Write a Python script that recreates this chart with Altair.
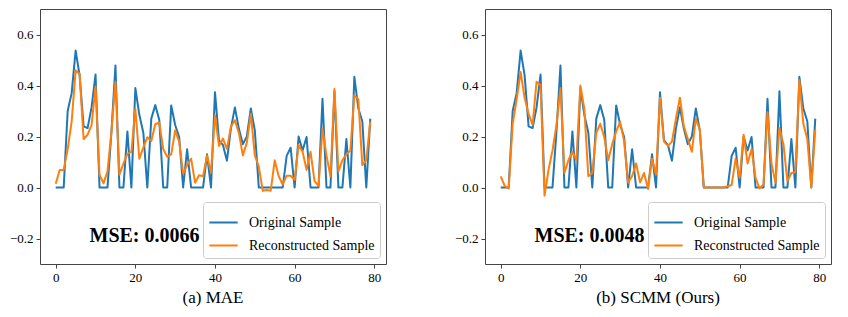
import altair as alt
import pandas as pd

# ---------------- data ----------------
x_index = list(range(80))

original_sample = [
    0.0, 0.0, 0.0, 0.30, 0.37, 0.537, 0.44, 0.24, 0.233, 0.314,
    0.443, 0.0, 0.0, 0.0, 0.22, 0.478, 0.0, 0.0, 0.22, 0.0,
    0.39, 0.285, 0.215, 0.0, 0.27, 0.323, 0.266, 0.0, 0.0, 0.322,
    0.245, 0.198, 0.0, 0.15, 0.0, 0.0, 0.0, 0.0, 0.13, 0.0,
    0.374, 0.185, 0.167, 0.105, 0.232, 0.314, 0.23, 0.17, 0.2, 0.31,
    0.224, 0.0, 0.0, 0.0, 0.0, 0.0, 0.0, 0.0, 0.124, 0.156,
    0.0, 0.2, 0.145, 0.198, 0.0, 0.0, 0.0, 0.348, 0.0, 0.0,
    0.377, 0.0, 0.0, 0.19, 0.0, 0.434, 0.31, 0.26, 0.0, 0.27,
]

mae_reconstructed = [
    0.015, 0.069, 0.069, 0.15, 0.258, 0.46, 0.446, 0.19, 0.207, 0.245,
    0.396, 0.05, 0.016, 0.063, 0.22, 0.415, 0.05, 0.094, 0.132, 0.14,
    0.308, 0.113, 0.157, 0.197, 0.182, 0.248, 0.255, 0.151, 0.12, 0.13,
    0.224, 0.18, 0.054, 0.088, 0.113, 0.019, 0.048, 0.044, 0.126, 0.059,
    0.283, 0.163, 0.192, 0.151, 0.239, 0.264, 0.214, 0.126, 0.176, 0.289,
    0.126, 0.082, -0.013, -0.01, -0.013, 0.107, 0.044, 0.012, 0.046, 0.046,
    0.03, 0.167, 0.14, 0.069, 0.14, 0.025, 0.006, 0.23, 0.126, 0.044,
    0.386, 0.063, 0.107, 0.13, 0.145, 0.361, 0.346, 0.088, 0.107, 0.258,
]

scmm_reconstructed = [
    0.044, 0.006, -0.004, 0.25, 0.346, 0.453, 0.352, 0.289, 0.245, 0.415,
    0.402, -0.032, 0.069, 0.145, 0.245, 0.39, 0.057, 0.107, 0.14, 0.107,
    0.40, 0.308, 0.044, 0.057, 0.214, 0.25, 0.197, 0.107, 0.17, 0.22,
    0.258, 0.18, 0.019, 0.045, 0.094, 0.02, 0.057, -0.006, 0.113, 0.05,
    0.352, 0.18, 0.163, 0.18, 0.27, 0.352, 0.239, 0.19, 0.14, 0.27,
    0.227, 0.0, 0.0, 0.0, 0.0, 0.0, 0.0, 0.005, 0.01, 0.113,
    0.038, 0.207, 0.094, 0.151, 0.038, -0.004, 0.012, 0.295, 0.094, 0.019,
    0.232, 0.17, 0.025, 0.057, 0.06, 0.421, 0.25, 0.19, 0.0, 0.226,
]

series_names = ["Original Sample", "Reconstructed Sample"]
series_colors = ["#1f77b4", "#ff7f0e"]
panel_titles = ["(a) MAE", "(b) SCMM (Ours)"]
mse_labels = ["MSE: 0.0066", "MSE: 0.0048"]
mse_anchor_x = [22.3]
mse_anchor_y = [-0.19]
x_ticks = [0, 20, 40, 60, 80]
y_ticks = [-0.2, 0.0, 0.2, 0.4, 0.6]
x_domain = [-3.95, 82.95]
y_domain = [-0.3, 0.7]

SERIF = "Liberation Serif"
PANEL_W = 346
PANEL_H = 255
TICK_COLOR = "#444444"


def axis(values, fmt):
    return alt.Axis(
        values=values,
        format=fmt,
        title=None,
        grid=False,
        domain=False,
        ticks=True,
        tickColor=TICK_COLOR,
        tickSize=4,
        labelPadding=3,
        labelFont=SERIF,
        labelFontSize=13,
        labelColor="black",
    )


def make_panel(reconstructed, title, mse_text):
    df = pd.DataFrame({
        "t": x_index + x_index,
        "value": original_sample + reconstructed,
        "series": [series_names[0]] * len(x_index) + [series_names[1]] * len(x_index),
        "order": [0] * len(x_index) + [1] * len(x_index),
    })
    x_enc = alt.X(
        "t:Q",
        scale=alt.Scale(domain=x_domain, nice=False, zero=False),
        axis=axis(x_ticks, "d"),
    )
    y_enc = alt.Y(
        "value:Q",
        scale=alt.Scale(domain=y_domain, nice=False, zero=False),
        axis=axis(y_ticks, ".1f"),
    )
    lines = alt.Chart(df).mark_line(strokeWidth=2, strokeJoin="round").encode(
        x=x_enc,
        y=y_enc,
        color=alt.Color(
            "series:N",
            scale=alt.Scale(domain=series_names, range=series_colors),
            legend=alt.Legend(
                orient="bottom-right",
                title=None,
                symbolType="stroke",
                symbolStrokeWidth=2,
                symbolSize=800,
                labelFont=SERIF,
                labelFontSize=14,
                labelColor="black",
                labelOffset=10,
                fillColor="white",
                strokeColor="#cccccc",
                cornerRadius=3,
                padding=5,
                offset=6,
                rowPadding=-5,
            ),
        ),
        detail="series:N",
        order="order:Q",
    )
    txt_df = pd.DataFrame({"t": mse_anchor_x, "value": mse_anchor_y, "label": [mse_text]})
    mse = alt.Chart(txt_df).mark_text(
        font=SERIF, fontSize=20, fontWeight="bold", align="center", baseline="middle", color="black"
    ).encode(x="t:Q", y="value:Q", text="label:N")
    return alt.layer(lines, mse).properties(
        width=PANEL_W,
        height=PANEL_H,
        title=alt.TitleParams(
            title, orient="bottom", font=SERIF, fontSize=17, fontWeight="normal", color="black", offset=6
        ),
    )


left = make_panel(mae_reconstructed, panel_titles[0], mse_labels[0])
right = make_panel(scmm_reconstructed, panel_titles[1], mse_labels[1])

chart = (
    alt.hconcat(left, right, spacing=66)
    .resolve_scale(color="independent")
    .properties(padding={"left": 0, "top": 0, "right": 2, "bottom": 0}, background="white")
    .configure_view(stroke="#444444", strokeWidth=1)
    .configure_axis(grid=False, labelFont=SERIF)
    .configure_legend(labelFont=SERIF)
)

chart.save("out.html", embed_options={"renderer": "svg", "actions": False})
